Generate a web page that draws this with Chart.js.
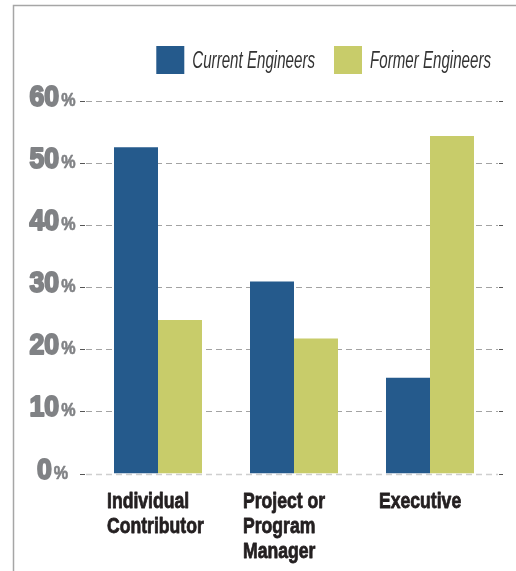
<!DOCTYPE html>
<html>
<head>
<meta charset="utf-8">
<script src="https://cdn.jsdelivr.net/npm/chart.js@4"></script>
<style>
  html, body { margin: 0; padding: 0; background: #fff; }
  #roleChart { display: block; }
</style>
</head>
<body>
<canvas id="roleChart" width="516" height="571"></canvas>
<script>
// Share of engineers by role
const categories = [['Individual', 'Contributor'], ['Project or', 'Program', 'Manager'], 'Executive'];
const seriesNames = ['Current Engineers', 'Former Engineers'];
const currentValues = [52.5, 30.9, 15.4];
const formerValues = [24.7, 21.7, 54.3];
const yTicks = [0, 10, 20, 30, 40, 50, 60];
const seriesColors = ['#255a8c', '#c8cc6a'];

const SANS = '"Liberation Sans", Arial, sans-serif';

// draw text squeezed horizontally (condensed look); optional outline makes it heavier
function narrowText(c, text, x, y, sx, weight) {
  c.save();
  c.translate(x, y);
  c.scale(sx, 1);
  if (weight) {
    c.lineWidth = weight;
    c.lineJoin = 'round';
    c.strokeStyle = c.fillStyle;
    c.strokeText(text, 0, 0);
  }
  c.fillText(text, 0, 0);
  c.restore();
}

// outer frame (left and top rule)
const frame = {
  id: 'frame',
  beforeDraw(chart) {
    const c = chart.ctx;
    c.save();
    c.strokeStyle = '#a6a6a6';
    c.lineWidth = 1.5;
    c.beginPath();
    c.moveTo(13.5, 571);
    c.lineTo(13.5, 5.5);
    c.lineTo(516, 5.5);
    c.stroke();
    c.restore();
  }
};

// dashed value lines run a little wider than the bar area
const dashedGrid = {
  id: 'dashedGrid',
  beforeDatasetsDraw(chart) {
    const c = chart.ctx;
    const y = chart.scales.y;
    const x0 = 80, x1 = 503;
    c.save();
    y.ticks.forEach(t => {
      const py = Math.round(y.getPixelForValue(t.value)) + 0.5;
      c.setLineDash([6, 4]);
      c.strokeStyle = t.value === 0 ? '#cfcfcf' : '#a3a3a3';
      c.lineWidth = t.value === 0 ? 1.5 : 1;
      c.beginPath();
      c.moveTo(x0 + 6, py);
      c.lineTo(x1 - 5, py);
      c.stroke();
      c.setLineDash([]);
      c.strokeStyle = '#555';
      c.lineWidth = 1;
      c.beginPath();
      c.moveTo(x0, py); c.lineTo(x0 + 5, py);
      c.moveTo(x1 - 4, py); c.lineTo(x1, py);
      c.stroke();
    });
    c.restore();
  }
};

// y labels: large heavy number with a smaller percent sign
const percentLabels = {
  id: 'percentLabels',
  afterDraw(chart) {
    const c = chart.ctx;
    const y = chart.scales.y;
    const numFont = 'bold 29px ' + SANS;
    const pctFont = 'bold 19px ' + SANS;
    const numScale = 0.92, pctScale = 0.85;
    c.save();
    c.fillStyle = '#808285';
    c.textBaseline = 'alphabetic';
    c.textAlign = 'left';
    y.ticks.forEach(t => {
      const py = y.getPixelForValue(t.value) + 5;
      const num = String(t.value);
      c.font = numFont;
      const nw = c.measureText(num).width * numScale + 2;
      c.font = pctFont;
      const pw = c.measureText('%').width * pctScale;
      const left = 52 - (nw + 1 + pw) / 2;
      c.font = numFont;
      narrowText(c, num, left + 1, py, numScale, 2);
      c.font = pctFont;
      narrowText(c, '%', left + nw + 1, py, pctScale, 0.6);
    });
    c.restore();
  }
};

// category names under each bar pair, left aligned, one row per line
const categoryLabels = {
  id: 'categoryLabels',
  afterDraw(chart) {
    const c = chart.ctx;
    const x = chart.scales.x;
    const top = chart.chartArea.bottom + 16;
    const lineH = 25;
    c.save();
    c.fillStyle = '#231f20';
    c.font = 'bold 22px ' + SANS;
    c.textBaseline = 'middle';
    c.textAlign = 'left';
    categories.forEach((label, i) => {
      const lines = Array.isArray(label) ? label : [label];
      const left = x.getPixelForValue(i) - 51;
      lines.forEach((line, j) => {
        narrowText(c, line, left, top + lineH / 2 + j * lineH, 0.8, 0.8);
      });
    });
    c.restore();
  }
};

// legend: square swatches and italic series names, right aligned
const legendRow = {
  id: 'legendRow',
  afterDraw(chart) {
    const c = chart.ctx;
    const box = 28, gap = 8, itemGap = 19, sx = 0.63;
    const boxTop = 46;
    let right = 491;
    c.save();
    c.font = 'italic 24px ' + SANS;
    c.textBaseline = 'middle';
    c.textAlign = 'left';
    for (let i = chart.data.datasets.length - 1; i >= 0; i--) {
      const ds = chart.data.datasets[i];
      const tw = c.measureText(ds.label).width * sx;
      const textX = right - tw;
      const boxX = textX - gap - box;
      c.fillStyle = ds.backgroundColor;
      c.fillRect(boxX, boxTop, box, box);
      c.fillStyle = '#333';
      narrowText(c, ds.label, textX, boxTop + box / 2 + 1, sx);
      right = boxX - itemGap;
    }
    c.restore();
  }
};

new Chart(document.getElementById('roleChart'), {
  type: 'bar',
  data: {
    labels: categories,
    datasets: [
      { label: seriesNames[0], data: currentValues, backgroundColor: seriesColors[0], borderWidth: 0 },
      { label: seriesNames[1], data: formerValues, backgroundColor: seriesColors[1], borderWidth: 0 }
    ]
  },
  options: {
    responsive: false,
    animation: false,
    categoryPercentage: 0.647,
    barPercentage: 1.0,
    layout: { padding: { top: 100.5, right: 18, bottom: 97.5, left: 90 } },
    plugins: {
      legend: { display: false },
      tooltip: { enabled: false }
    },
    scales: {
      x: { display: false },
      y: {
        display: false,
        min: 0,
        max: yTicks[yTicks.length - 1],
        afterBuildTicks(scale) { scale.ticks = yTicks.map(v => ({ value: v })); }
      }
    }
  },
  plugins: [frame, dashedGrid, percentLabels, categoryLabels, legendRow]
});
</script>
</body>
</html>
